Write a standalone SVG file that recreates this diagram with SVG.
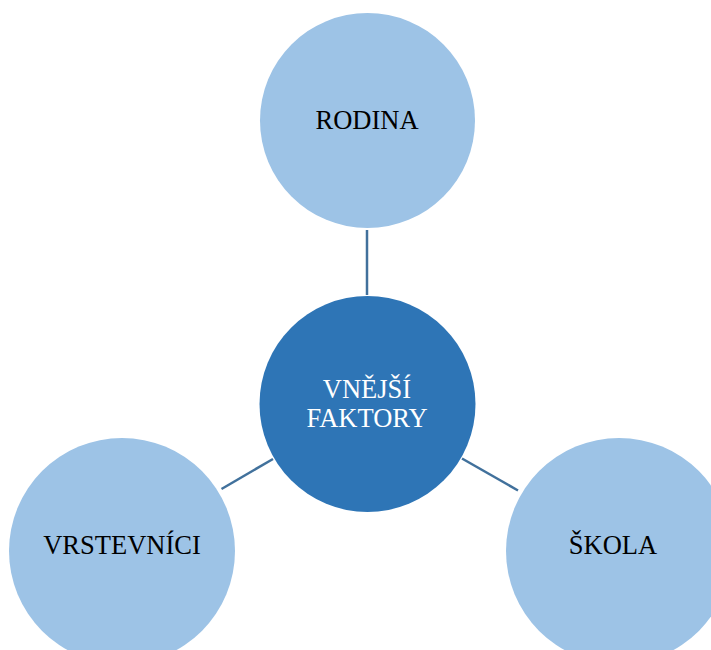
<svg xmlns="http://www.w3.org/2000/svg" width="711" height="650" viewBox="0 0 711 650">
<style>
.outer{fill:#9DC3E6}
.inner{fill:#2E75B6}
.lbl{font-family:"Liberation Serif","Times New Roman",serif;font-size:26.5px;text-anchor:middle;fill:#000}
.lblw{fill:#fff}
.con{stroke:#41719C;stroke-width:2.5;fill:none}
</style>
<rect width="711" height="650" fill="#fff"/>
<g id="connectors">
<line class="con" x1="367" y1="230" x2="367" y2="295"/>
<line class="con" x1="221.5" y1="489" x2="273" y2="459"/>
<line class="con" x1="462" y1="458.5" x2="518" y2="490.5"/>
</g>
<g id="rodina">
<circle class="outer" cx="367.5" cy="120.5" r="107.5"/>
<text class="lbl" x="367" y="129">RODINA</text>
</g>
<g id="vnejsi-faktory">
<circle class="inner" cx="367.5" cy="404" r="108"/>
<text class="lbl lblw" x="367" y="398">VNĚJŠÍ</text>
<text class="lbl lblw" x="367" y="427">FAKTORY</text>
</g>
<g id="vrstevnici">
<circle class="outer" cx="122" cy="551" r="113"/>
<text class="lbl" x="122" y="554">VRSTEVNÍCI</text>
</g>
<g id="skola">
<circle class="outer" cx="619" cy="551" r="113"/>
<text class="lbl" x="613" y="554">ŠKOLA</text>
</g>
</svg>
